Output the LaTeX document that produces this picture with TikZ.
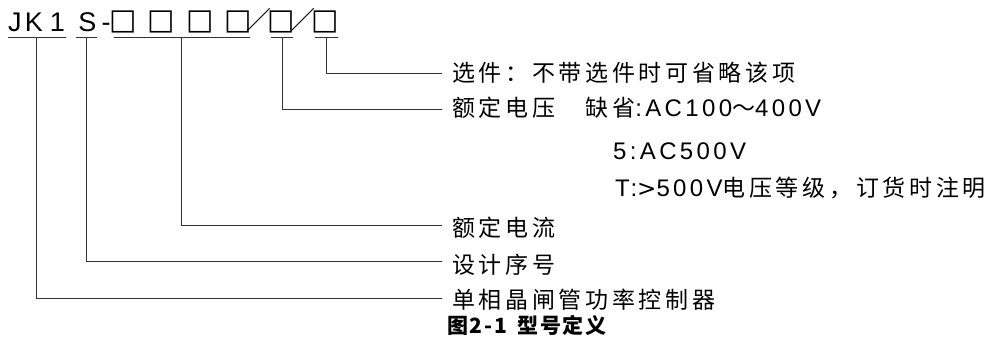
\documentclass[tikz,border=0pt]{standalone}
\usepackage{fontspec}
\setmainfont{Liberation Sans}
\newfontfamily\lat[LetterSpace=14]{Liberation Sans}
\newfontfamily\cjk[LetterSpace=16]{Noto Sans CJK SC}
\newfontfamily\cjkplain{Noto Sans CJK SC}
\newfontfamily\cjkcap[LetterSpace=8]{Noto Sans CJK SC}
\newfontfamily\sym{DejaVu Sans}
\newfontfamily\symsp[LetterSpace=14]{DejaVu Sans}
\newcommand\LA{\lat\fontsize{24}{24}\selectfont}
\newcommand\CJ{\cjk\fontsize{23}{23}\selectfont}
\newcommand\SY{\symsp\fontsize{23}{23}\selectfont}
\begin{document}
\begin{tikzpicture}[x=1pt,y=-1pt,
  tch/.style={anchor=base,inner sep=0pt,font=\fontsize{27}{27}\selectfont},
  boxch/.style={anchor=base,inner sep=0pt,font=\sym\fontsize{29}{29}\selectfont},
  slch/.style={anchor=base,inner sep=0pt,font=\cjkplain\fontsize{25}{25}\selectfont},
  ln/.style={line width=1pt,black!80},
  lbl/.style={anchor=base west,inner sep=0pt},
  captxt/.style={anchor=base west,inner sep=0pt,font=\cjkcap\bfseries\fontsize{21}{21}\selectfont}]
\useasboundingbox (0,0) rectangle (1003,347);
% title characters
\node[tch] (cJ) at (15,32) {J};
\node[tch] (cK) at (34,32) {K};
\node[tch] (c1) at (57.5,32) {1};
\node[tch] (cS) at (87.5,32) {S};
\node[tch] (cd) at (106,32) {-};
\node[boxch] (b1) at (123.5,29.5) {□};
\node[boxch] (b2) at (161.5,29.5) {□};
\node[boxch] (b3) at (200.5,29.5) {□};
\node[boxch] (b4) at (238,29.5) {□};
\node[slch] (s1) at (259,30) {／};
\node[boxch] (b5) at (281,29.5) {□};
\node[slch] (s2) at (302.5,30) {／};
\node[boxch] (b6) at (325,29.5) {□};
% underlines
\draw[ln] (8,38) -- (66,38);
\draw[ln] (76,38) -- (97,38);
\draw[ln] (114,38) -- (250,38);
\draw[ln] (271,38) -- (293,38);
\draw[ln] (315,38) -- (338,38);
\coordinate (u1) at (36.7,38);
\coordinate (u2) at (86.7,38);
\coordinate (u3) at (181.7,38);
\coordinate (u4) at (282.7,38);
\coordinate (u5) at (326.7,38);
\coordinate (e5) at (442,74);
\coordinate (e4) at (442,110);
\coordinate (e3) at (442,226);
\coordinate (e2) at (442,261);
\coordinate (e1) at (442,298);
\draw[ln] (u5) |- (e5);
\draw[ln] (u4) |- (e4);
\draw[ln] (u3) |- (e3);
\draw[ln] (u2) |- (e2);
\draw[ln] (u1) |- (e1);
% labels
\node[lbl] (l5) at (452,81.5) {\CJ 选件：不带选件时可省略该项};
\node[lbl] (l4) at (452,117) {\CJ 额定电压　缺省\LA :AC100\CJ ～\LA 400V};
\node[lbl] (l4b) at (613,159.3) {\LA 5:AC500V};
\node[lbl] (l4c) at (615,196.5) {\LA T:\SY >\LA 500V\CJ 电压等级，订货时注明};
\node[lbl] (l3) at (452,236.5) {\CJ 额定电流};
\node[lbl] (l2) at (452,273.5) {\CJ 设计序号};
\node[lbl] (l1) at (452,308.5) {\CJ 单相晶闸管功率控制器};
\node[captxt] (capn) at (447,333) {图2-1\hspace{0.5em}型号定义};
\end{tikzpicture}
\end{document}
